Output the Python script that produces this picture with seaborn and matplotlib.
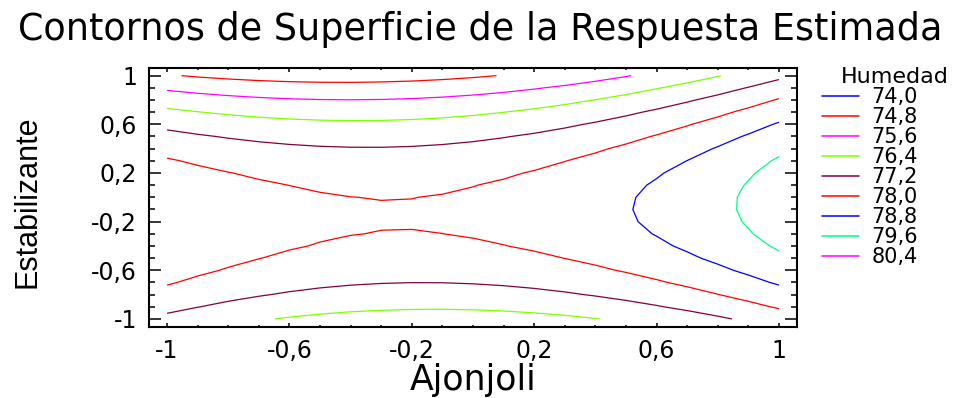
import numpy as np
import matplotlib
matplotlib.use("Agg")
import matplotlib.pyplot as plt
from matplotlib.lines import Line2D
from matplotlib.ticker import MultipleLocator, FixedLocator
import seaborn as sns

# ---------------- data ----------------
levels = [74.0, 74.8, 75.6, 76.4, 77.2, 78.0, 78.8, 79.6, 80.4]
level_labels = ["74,0", "74,8", "75,6", "76,4", "77,2", "78,0", "78,8", "79,6", "80,4"]
level_colors = ["#0000ff", "#ff0000", "#ff00ff", "#80ff00", "#800040",
                "#ff0000", "#0000ff", "#00ff80", "#ff00ff"]

x_ticks = [-1, -0.6, -0.2, 0.2, 0.6, 1]
x_tick_labels = ["-1", "-0,6", "-0,2", "0,2", "0,6", "1"]
y_ticks = [-1, -0.6, -0.2, 0.2, 0.6, 1]
y_tick_labels = ["-1", "-0,6", "-0,2", "0,2", "0,6", "1"]

# contour points (Ajonjoli, Estabilizante), per level
c748_x = [-0.949, -0.304, 0.023, 0.088]
c748_y = [1.0, 0.946, 0.987, 1.0]
c756_x = [-1.0, -0.402, 0.023, 0.519]
c756_y = [0.882, 0.800, 0.847, 1.0]
c764_x = [-1.0, -0.457, 0.023, 0.458, 0.813, -0.647, -0.195, 0.023, 0.413]
c764_y = [0.732, 0.630, 0.677, 0.841, 1.0, -1.0, -0.921, -0.927, -1.0]
c772_x = [-1.0, -0.347, 0.023, 0.568, 0.998, -1.0, -0.565, -0.195, 0.023, 0.491, 0.849]
c772_y = [0.553, 0.408, 0.465, 0.718, 0.965, -0.954, -0.768, -0.702, -0.713, -0.845, -1.0]
c780_x = [-1.0, -0.304, 0.023, 0.568, 1.0, -1.0, -0.565, -0.271, -0.195, 0.023, 0.404, 0.998]
c780_y = [0.326, -0.028, 0.108, 0.498, 0.806, -0.727, -0.420, -0.269, -0.263, -0.345, -0.557, -0.913]
c788_x = [1.0, 0.785, 0.632, 0.568, 0.526, 0.526, 0.589, 0.747, 0.998]
c788_y = [0.617, 0.403, 0.211, 0.101, -0.077, -0.105, -0.310, -0.510, -0.727]
c796_x = [1.0, 0.889, 0.862, 0.862, 0.916, 0.998]
c796_y = [0.329, 0.101, -0.077, -0.105, -0.296, -0.439]

# ---------------- response surface (quadratic fit to read points) ----------------
pts = [(74.8, c748_x, c748_y), (75.6, c756_x, c756_y), (76.4, c764_x, c764_y),
       (77.2, c772_x, c772_y), (78.0, c780_x, c780_y), (78.8, c788_x, c788_y),
       (79.6, c796_x, c796_y)]
X = np.concatenate([np.asarray(p[1]) for p in pts])
Y = np.concatenate([np.asarray(p[2]) for p in pts])
Z = np.concatenate([np.full(len(p[1]), p[0]) for p in pts])
A = np.column_stack([np.ones_like(X), X, Y, X**2, Y**2, X * Y])
coef, *_ = np.linalg.lstsq(A, Z, rcond=None)

# coarse evaluation grid, as in the original software (piecewise-linear contours)
gx = np.linspace(-1, 1, 21)
gy = np.linspace(-1, 1, 21)
GX, GY = np.meshgrid(gx, gy)
GZ = (coef[0] + coef[1] * GX + coef[2] * GY + coef[3] * GX**2
      + coef[4] * GY**2 + coef[5] * GX * GY)

# ---------------- style ----------------
sns.set_theme(style="ticks")
plt.rcParams["font.family"] = ["DejaVu Sans"]
plt.rcParams["axes.linewidth"] = 1.5
plt.rcParams["text.color"] = "black"
plt.rcParams["legend.labelcolor"] = "black"

W, H = 959, 398
fig = plt.figure(figsize=(W / 100, H / 100), dpi=100)
fig.patch.set_facecolor("white")
ax = fig.add_axes([149 / W, (H - 327) / H, 648 / W, 259 / H])
ax.set_facecolor("white")

ax.contour(GX, GY, GZ, levels=levels, colors=level_colors, linewidths=0.9)

ax.set_xlim(-1.059, 1.059)
ax.set_ylim(-1.066, 1.063)

ax.xaxis.set_major_locator(FixedLocator(x_ticks))
ax.set_xticklabels(x_tick_labels)
ax.yaxis.set_major_locator(FixedLocator(y_ticks))
ax.set_yticklabels(y_tick_labels)
ax.xaxis.set_minor_locator(MultipleLocator(0.1))
ax.yaxis.set_minor_locator(MultipleLocator(0.1))

ax.tick_params(axis="x", which="major", direction="in", length=3, width=1.1,
               top=True, bottom=True, pad=8.5, labelsize=17, colors="black")
ax.tick_params(axis="x", which="minor", direction="in", length=1.6, width=1.1,
               top=True, bottom=True, colors="black")
ax.tick_params(axis="y", which="major", direction="in", length=8.6, width=1.1,
               left=True, right=True, pad=8.5, labelsize=17, colors="black")
ax.tick_params(axis="y", which="minor", direction="in", length=4.3, width=1.1,
               left=True, right=True, colors="black")
for s in ax.spines.values():
    s.set_color("black")
    s.set_linewidth(1.5)

# texts
fig.text(480 / W, 1 - 40 / H, "Contornos de Superficie de la Respuesta Estimada",
         ha="center", va="baseline", fontsize=26.3, color="black")
fig.text(473 / W, 1 - 390 / H, "Ajonjoli", ha="center", va="baseline",
         fontsize=25, color="black")
fig.text(28 / W, 1 - 202 / H, "Estabilizante", ha="center", va="center",
         rotation=90, fontsize=22, color="black",
         family=["Liberation Sans", "DejaVu Sans"])

# legend
fig.text(841 / W, 1 - 83 / H, "Humedad", ha="left", va="baseline",
         fontsize=16, color="black")
handles = [Line2D([], [], color=c, lw=1.1) for c in level_colors]
leg = fig.legend(handles, level_labels, loc="upper left",
                 bbox_to_anchor=(822 / W, 1 - 87 / H), frameon=False, fontsize=15,
                 handlelength=1.78, handletextpad=0.6, labelspacing=0.0,
                 borderpad=0, borderaxespad=0)
for t in leg.get_texts():
    t.set_color("black")

fig.savefig("out.png", dpi=100, facecolor="white")
